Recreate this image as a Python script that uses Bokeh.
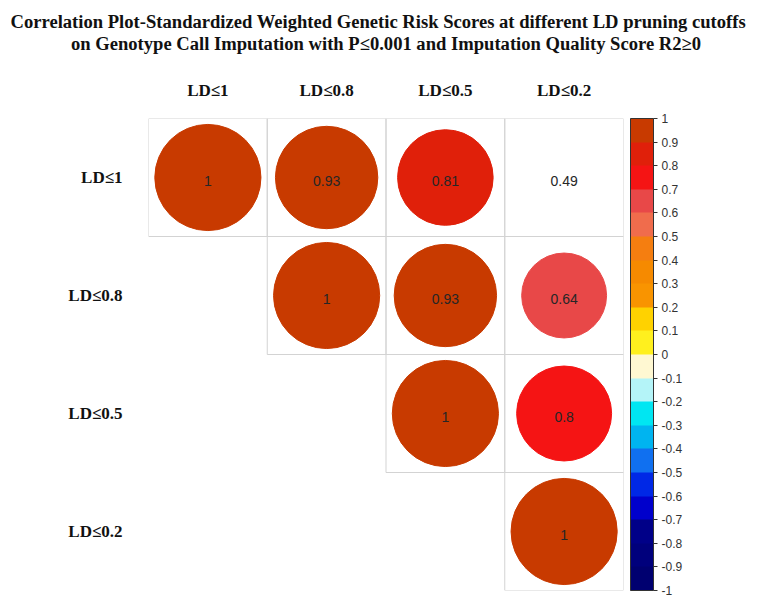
import math
from bokeh.plotting import figure
from bokeh.models import (ColumnDataSource, LinearColorMapper, ColorBar, FixedTicker,
                          CustomJSTickFormatter, Title)
from bokeh.embed import file_html
from bokeh.resources import INLINE

# ---------------- data ----------------
labels = ["LD≤1", "LD≤0.8", "LD≤0.5", "LD≤0.2"]
corr = [
    [1.00, 0.93, 0.81, 0.49],
    [0.93, 1.00, 0.93, 0.64],
    [0.81, 0.93, 1.00, 0.80],
    [0.49, 0.64, 0.80, 1.00],
]
blank_circles = [(0, 3)]  # cells shown with the number only
cb_ticks = [-1, -0.9, -0.8, -0.7, -0.6, -0.5, -0.4, -0.3, -0.2, -0.1,
            0, 0.1, 0.2, 0.3, 0.4, 0.5, 0.6, 0.7, 0.8, 0.9, 1]
palette = ["#000070", "#00007C", "#000088", "#0000CC", "#0028E6", "#1070F0",
           "#00B4F0", "#00E6F2", "#B4F4F8", "#FFF8D2", "#FFF01E", "#FFD200",
           "#F99400", "#F68A00", "#F57E10", "#F06C4C", "#E84848", "#F51414",
           "#E0200A", "#C83A00"]

title1 = "Correlation Plot-Standardized Weighted Genetic Risk Scores at different LD pruning cutoffs"
title2 = "on Genotype Call Imputation with P≤0.001 and Imputation Quality Score R2≥0"


def bin_color(v):
    k = math.ceil(round((v + 1) * 10, 6)) - 1
    return palette[max(0, min(len(palette) - 1, k))]


cells = dict(x=[], y=[])
circ = dict(x=[], y=[], r=[], color=[])
nums = dict(x=[], y=[], txt=[])
n = len(labels)
for i in range(n):
    for j in range(i, n):
        v = corr[i][j]
        cells["x"].append(labels[j]); cells["y"].append(labels[i])
        if (i, j) not in blank_circles:
            circ["x"].append(labels[j]); circ["y"].append(labels[i])
            circ["r"].append(0.447 * math.sqrt(abs(v)))
            circ["color"].append(bin_color(v))
        nums["x"].append(labels[j]); nums["y"].append(labels[i])
        nums["txt"].append(f"{v:g}")

p = figure(width=764, height=600, x_range=labels, y_range=list(reversed(labels)),
           x_axis_location="above", output_backend="svg", toolbar_location=None,
           min_border_left=148, min_border_right=141, min_border_top=118,
           min_border_bottom=10)
p.outline_line_color = None
p.xgrid.visible = False
p.ygrid.visible = False

serif = "Liberation Serif"
for ax in (p.xaxis[0], p.yaxis[0]):
    ax.axis_line_color = None
    ax.major_tick_line_color = None
    ax.minor_tick_line_color = None
    ax.major_label_text_font = serif
    ax.major_label_text_font_style = "bold"
    ax.major_label_text_font_size = "17px"
    ax.major_label_text_color = "#111111"
p.xaxis.major_label_standoff = 13
p.yaxis.major_label_standoff = 20

# second title line: carried by the top axis label
p.xaxis.axis_label = title2
p.xaxis.axis_label_standoff = 24
p.xaxis.axis_label_text_font = serif
p.xaxis.axis_label_text_font_size = "18.6px"
p.xaxis.axis_label_text_font_style = "bold"
p.xaxis.axis_label_text_color = "#111111"

# first title line
p.add_layout(Title(text=title1, align="left", offset=-138, standoff=-4,
                   text_font=serif, text_font_size="18.6px", text_font_style="bold",
                   text_color="#111111"), "above")

p.rect(x="x", y="y", width=1, height=1, source=ColumnDataSource(cells),
       fill_color=None, line_color="#D3D3D3", line_width=1)
p.circle(x="x", y="y", radius="r", source=ColumnDataSource(circ),
         fill_color="color", line_color="color", line_width=1)
p.text(x="x", y="y", text="txt", source=ColumnDataSource(nums),
       text_align="center", text_baseline="middle", y_offset=3,
       text_font_size="14px", text_color="#262626")

mapper = LinearColorMapper(palette=palette, low=-1, high=1)
cb = ColorBar(color_mapper=mapper, ticker=FixedTicker(ticks=cb_ticks),
              formatter=CustomJSTickFormatter(code="return String(Math.round(tick*10)/10)"),
              width=23, padding=0, margin=0, location=(7, 0),
              bar_line_color="#333333", major_tick_line_color="#333333",
              major_tick_in=0, major_tick_out=4, minor_tick_line_color=None,
              label_standoff=4, major_label_text_font_size="12px",
              major_label_text_color="#333333", background_fill_alpha=0,
              border_line_color=None)
p.add_layout(cb, "right")

open("out.html", "w").write(file_html(p, INLINE))
